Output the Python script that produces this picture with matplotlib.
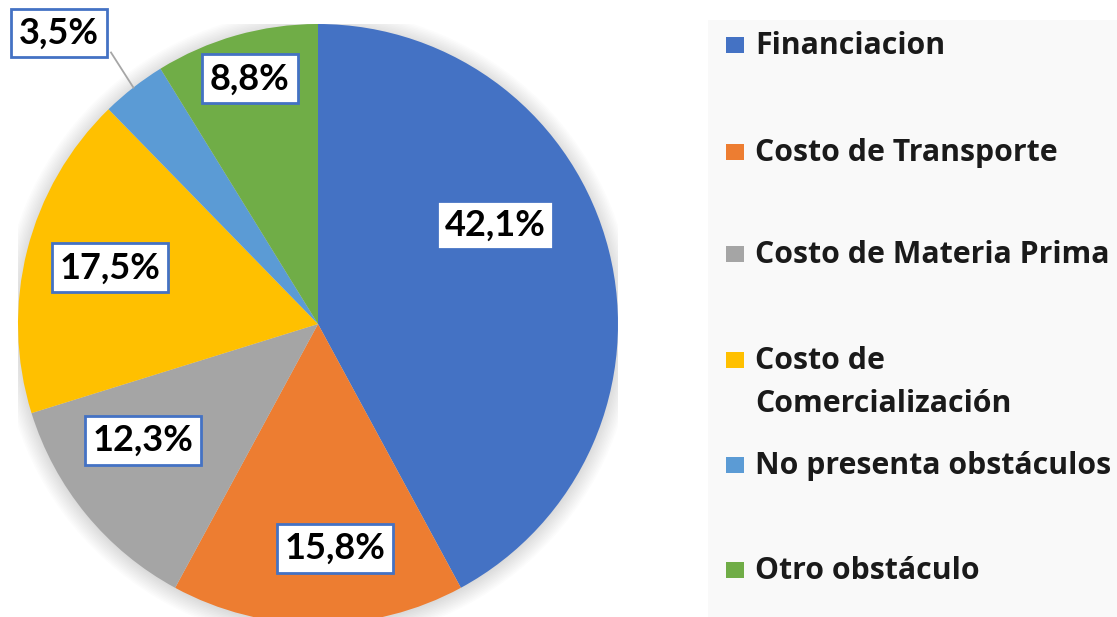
import numpy as np
import matplotlib.pyplot as plt
from matplotlib.patches import Rectangle, Circle

# data
categories = ['Financiacion', 'Costo de Transporte', 'Costo de Materia Prima',
              'Costo de\nComercialización', 'No presenta obstáculos', 'Otro obstáculo']
shares = [42.1, 15.8, 12.3, 17.5, 3.5, 8.8]
colors = ['#4472C4', '#ED7D31', '#A5A5A5', '#FFC000', '#5B9BD5', '#70AD47']

W, H = 1117, 617
plt.rcParams['font.family'] = ['Lato', 'DejaVu Sans']
fig = plt.figure(figsize=(W / 100, H / 100), dpi=100)


def fx(px):
    return px / W


def fy(py):
    return 1 - py / H


# pie axes: centre (318, 324) px, radius 300 px
cx, cy, r = 318, 324, 300
ax = fig.add_axes([fx(cx - r), fy(cy + r), 2 * r / W, 2 * r / H])

# soft shadow behind the pie
for i in range(12):
    ax.add_patch(Circle((0, -0.006), 1 + 0.005 * i, color='black',
                        alpha=0.012, lw=0, zorder=0))

wedges, _ = ax.pie(shares, colors=colors, startangle=90, counterclock=False,
                   radius=1, wedgeprops=dict(linewidth=0))
ax.set_xlim(-1, 1)
ax.set_ylim(-1, 1)
ax.axis('off')

# label positions (data units, pie radius = 1)
label_pos = [(0.59, 0.33), (0.057, -0.747), (-0.583, -0.387),
             (-0.693, 0.187), (-0.863, 0.97), (-0.227, 0.817)]
for v, (x, y) in zip(shares, label_pos):
    ax.text(x, y, f'{v:.1f}%'.replace('.', ','), ha='center', va='center',
            fontsize=26, fontweight='bold', color='black', zorder=5,
            bbox=dict(boxstyle='square,pad=0.22', fc='white', ec='#4472C4', lw=2))

# leader line for the small slice
w = wedges[4]
mid = np.deg2rad((w.theta1 + w.theta2) / 2)
ax.plot([-0.69, np.cos(mid)], [0.905, np.sin(mid)], color='#A6A6A6', lw=1.3, zorder=4)

# legend drawn by hand to follow the reference spacing
fig.patches.append(Rectangle((fx(708), 0), 1 - fx(708), fy(20), transform=fig.transFigure,
                             fc='#F9F9F9', ec='none', zorder=0))
item_y = [45, 152, 254, 360, 465, 570]
for lab, c, y in zip(categories, colors, item_y):
    fig.patches.append(Rectangle((fx(726), fy(y + 8)), 18 / W, 16 / H,
                                 transform=fig.transFigure, fc=c, ec='none'))
    for j, line in enumerate(lab.split('\n')):
        fig.text(fx(755), fy(y + 9 + j * 43), line, ha='left', va='baseline',
                 fontsize=21.8, fontweight='bold', color='#1a1a1a',
                 family=['Open Sans', 'DejaVu Sans'])

fig.savefig('out.png', dpi=100)
